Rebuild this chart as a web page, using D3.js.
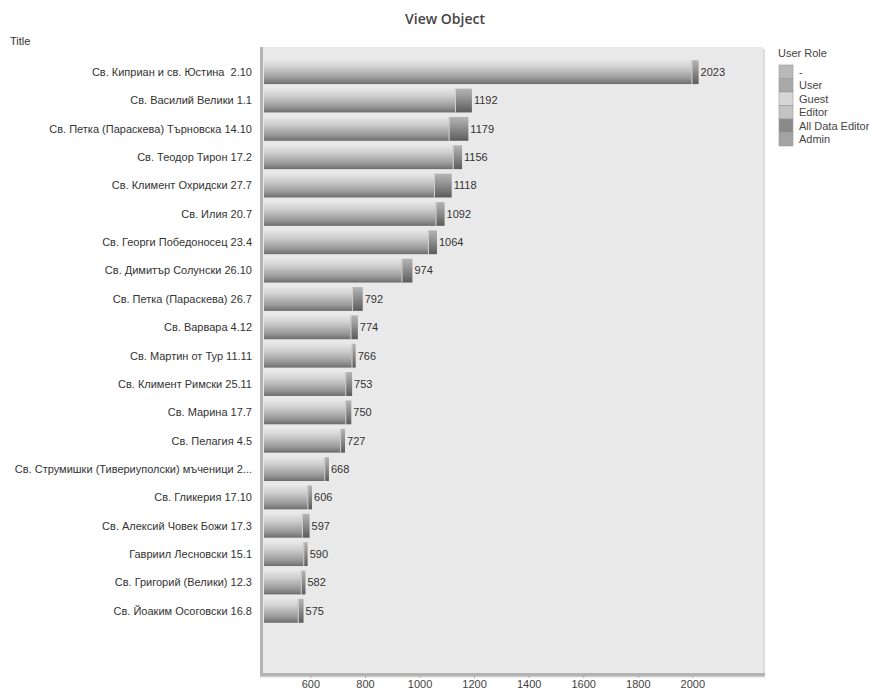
<!DOCTYPE html>
<html>
<head>
<meta charset="utf-8">
<script src="https://cdn.jsdelivr.net/npm/d3@7"></script>
<style>
  html, body { margin: 0; padding: 0; background: #ffffff; }
  svg { display: block; font-family: "Liberation Sans", Arial, sans-serif; }
  .cat { white-space: pre; }
</style>
</head>
<body>
<svg id="chart" width="869" height="690"></svg>
<script>
// Saints' pages, ordered by total views
const titles = [
  "Св. Киприан и св. Юстина  2.10",
  "Св. Василий Велики 1.1",
  "Св. Петка (Параскева) Търновска 14.10",
  "Св. Теодор Тирон 17.2",
  "Св. Климент Охридски 27.7",
  "Св. Илия 20.7",
  "Св. Георги Победоносец 23.4",
  "Св. Димитър Солунски 26.10",
  "Св. Петка (Параскева) 26.7",
  "Св. Варвара 4.12",
  "Св. Мартин от Тур 11.11",
  "Св. Климент Римски 25.11",
  "Св. Марина 17.7",
  "Св. Пелагия 4.5",
  "Св. Струмишки (Тивериуполски) мъченици 2...",
  "Св. Гликерия 17.10",
  "Св. Алексий Човек Божи 17.3",
  "Гавриил Лесновски 15.1",
  "Св. Григорий (Велики) 12.3",
  "Св. Йоаким Осоговски 16.8"
];

// Views per user role
const viewsAnonymous = [1997, 1130, 1107, 1122, 1053, 1059, 1031, 934, 753, 747, 751, 728, 728, 709, 651, 589, 569, 574, 565, 554];
const viewsUser      = [26, 62, 72, 34, 65, 33, 33, 40, 39, 27, 15, 25, 22, 18, 17, 17, 28, 16, 17, 21];
const totals         = [2023, 1192, 1179, 1156, 1118, 1092, 1064, 974, 792, 774, 766, 753, 750, 727, 668, 606, 597, 590, 582, 575];

const roles       = ["-", "User", "Guest", "Editor", "All Data Editor", "Admin"];
const roleColors  = ["#b9b9b9", "#a9a9a9", "#d6d6d6", "#c4c4c4", "#8a8a8a", "#a3a3a3"];
const tickValues  = [600, 800, 1000, 1200, 1400, 1600, 1800, 2000];

const svg = d3.select("#chart");

const plot = { left: 263, right: 763, top: 47, bottom: 673 };

const x = d3.scaleLinear().domain([430, 2259]).range([plot.left + 1, plot.right]);
const y = d3.scaleBand().domain(titles).range([58, 625]).paddingInner(0.16).paddingOuter(0.08);

// gradients for the bar segments
const defs = svg.append("defs");
function vGrad(id, stops) {
  const g = defs.append("linearGradient").attr("id", id)
    .attr("x1", 0).attr("y1", 0).attr("x2", 0).attr("y2", 1);
  stops.forEach(([o, c]) => g.append("stop").attr("offset", o).attr("stop-color", c));
}
vGrad("gMain", [[0, "#e6e6e6"], [0.3, "#cfcfcf"], [0.75, "#9a9a9a"], [0.93, "#7a7a7a"], [1, "#6a6a6a"]]);
vGrad("gEnd",  [[0, "#b4b4b4"], [0.35, "#989898"], [0.8, "#6e6e6e"], [1, "#5a5a5a"]]);
const sh = defs.append("linearGradient").attr("id", "gShadow")
  .attr("x1", 0).attr("y1", 0).attr("x2", 0).attr("y2", 1);
sh.append("stop").attr("offset", 0).attr("stop-color", "#bdbdbd");
sh.append("stop").attr("offset", 1).attr("stop-color", "#ffffff");

// title
svg.append("text")
  .attr("x", 445).attr("y", 24)
  .attr("text-anchor", "middle")
  .style("font-family", "'Open Sans', 'DejaVu Sans', sans-serif")
  .style("font-size", "14px").style("font-weight", "600").style("fill", "#444")
  .text("View Object");

svg.append("text")
  .attr("x", 10).attr("y", 45)
  .style("font-size", "11px").style("fill", "#333")
  .text("Title");

// plot background with left/bottom frame
svg.append("rect")
  .attr("x", plot.left).attr("y", plot.top)
  .attr("width", plot.right - plot.left).attr("height", plot.bottom - plot.top)
  .attr("fill", "#e9e9e9");
svg.append("rect")
  .attr("x", plot.right).attr("y", plot.top + 2)
  .attr("width", 2).attr("height", plot.bottom - plot.top)
  .attr("fill", "#dcdcdc");
svg.append("rect")
  .attr("x", plot.left - 3).attr("y", plot.top)
  .attr("width", 3).attr("height", plot.bottom - plot.top + 3)
  .attr("fill", "#b3b3b3");
svg.append("rect")
  .attr("x", plot.left - 3).attr("y", plot.bottom)
  .attr("width", plot.right - plot.left + 5).attr("height", 3)
  .attr("fill", "#b3b3b3");
svg.append("rect")
  .attr("x", plot.left - 3).attr("y", plot.bottom + 3)
  .attr("width", plot.right - plot.left + 5).attr("height", 2)
  .attr("fill", "url(#gShadow)");

// category labels
svg.append("g").selectAll("text")
  .data(titles).join("text")
  .attr("class", "cat")
  .attr("x", 252)
  .attr("y", d => y(d) + y.bandwidth() / 2)
  .attr("dy", "0.35em")
  .attr("text-anchor", "end")
  .style("font-size", "11px").style("fill", "#333")
  .text(d => d);

// stacked bars
const rows = titles.map((t, i) => ({ t, a: viewsAnonymous[i], u: viewsUser[i], total: totals[i] }));
const x0 = x.range()[0];

const bars = svg.append("g").selectAll("g").data(rows).join("g");
bars.append("rect")
  .attr("x", x0)
  .attr("y", d => y(d.t))
  .attr("width", d => x(d.a) - x0)
  .attr("height", y.bandwidth())
  .attr("fill", "url(#gMain)");
bars.append("rect")
  .attr("x", d => x(d.a))
  .attr("y", d => y(d.t))
  .attr("width", d => x(d.a + d.u) - x(d.a))
  .attr("height", y.bandwidth())
  .attr("fill", "url(#gEnd)");
bars.append("line")
  .attr("x1", d => x(d.a) + 0.5).attr("x2", d => x(d.a) + 0.5)
  .attr("y1", d => y(d.t)).attr("y2", d => y(d.t) + y.bandwidth())
  .attr("stroke", "#d0d0d0").attr("stroke-width", 1);
bars.append("text")
  .attr("x", d => x(d.a + d.u) + 2)
  .attr("y", d => y(d.t) + y.bandwidth() / 2)
  .attr("dy", "0.35em")
  .style("font-size", "11px").style("fill", "#333")
  .text(d => d.total);

// x axis
const axis = svg.append("g")
  .attr("transform", `translate(0,${plot.bottom + 3})`)
  .call(d3.axisBottom(x).tickValues(tickValues).tickFormat(d3.format("d")).tickSize(2));
axis.select(".domain").remove();
axis.selectAll(".tick line").attr("stroke", "#aaa");
axis.selectAll(".tick text")
  .attr("y", 12).attr("dy", null)
  .style("font-family", "'Liberation Sans', Arial, sans-serif")
  .style("font-size", "11px").style("fill", "#444");

// legend
svg.append("text")
  .attr("x", 778).attr("y", 57)
  .style("font-size", "11px").style("fill", "#444")
  .text("User Role");
const leg = svg.append("g").selectAll("g").data(roles).join("g")
  .attr("transform", (d, i) => `translate(779,${65 + i * 13.5})`);
leg.append("rect")
  .attr("width", 14).attr("height", 13.5)
  .attr("fill", (d, i) => roleColors[i])
  .attr("stroke", "#9a9a9a").attr("stroke-width", 0.6);
leg.append("text")
  .attr("x", 20).attr("y", 7)
  .attr("dy", "0.35em")
  .style("font-size", "11px").style("fill", "#444")
  .text(d => d);
</script>
</body>
</html>
